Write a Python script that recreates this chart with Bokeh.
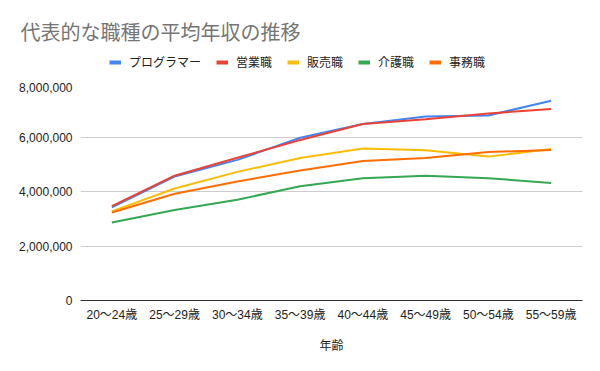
from bokeh.plotting import figure
from bokeh.layouts import column
from bokeh.models import Legend, LegendItem, NumeralTickFormatter, FixedTicker, Range1d
from bokeh.embed import file_html
from bokeh.resources import INLINE

ages = ["20～24歳", "25～29歳", "30～34歳", "35～39歳", "40～44歳", "45～49歳", "50～54歳", "55～59歳"]
programmer = [3420000, 4550000, 5160000, 5970000, 6480000, 6750000, 6790000, 7330000]
sales = [3460000, 4580000, 5240000, 5890000, 6480000, 6650000, 6860000, 7030000]
retail = [3270000, 4110000, 4720000, 5230000, 5580000, 5510000, 5280000, 5560000]
care = [2860000, 3320000, 3700000, 4190000, 4490000, 4580000, 4490000, 4310000]
clerk = [3230000, 3920000, 4370000, 4770000, 5120000, 5230000, 5450000, 5520000]
series_names = ["プログラマー", "営業職", "販売職", "介護職", "事務職"]
colors = ["#4285F4", "#EA4335", "#FBBC04", "#34A853", "#FF6D01"]
chart_title = "代表的な職種の平均年収の推移"
x_title = "年齢"

FONT = "Liberation Sans, Noto Sans CJK JP, sans-serif"
data = [programmer, sales, retail, care, clerk]

# header: title + legend (legend lines use the real series, kept out of view)
head = figure(width=600, height=82, x_range=ages, y_range=Range1d(0, 1),
              output_backend="svg", toolbar_location=None,
              x_axis_type=None, y_axis_type=None,
              min_border_left=80, min_border_right=18, min_border_top=48, min_border_bottom=0)
head.outline_line_color = None
head.xgrid.visible = False
head.ygrid.visible = False
head.title.text = chart_title
head.title.text_color = "#757575"
head.title.text_font = FONT
head.title.text_font_size = "20px"
head.title.text_font_style = "normal"
head.title.align = "left"
head.title.offset = -60
head.title.standoff = 10

items = []
for name, vals, c in zip(series_names, data, colors):
    r = head.line(ages, vals, line_color=c, line_width=4)
    items.append(LegendItem(label=name, renderers=[r]))
legend = Legend(items=items, orientation="horizontal", location=(29, 12),
                border_line_color=None, background_fill_alpha=0,
                label_text_font=FONT, label_text_font_size="12px", label_text_color="#222222",
                glyph_width=12, glyph_height=12, label_standoff=8, spacing=15, padding=4, margin=0)
head.add_layout(legend)

# main plot
p = figure(x_range=ages, y_range=Range1d(0, 8000000), width=600, height=289,
           output_backend="svg", toolbar_location=None,
           min_border_left=80, min_border_right=18, min_border_top=0, min_border_bottom=71)
p.outline_line_color = None

for vals, c in zip(data, colors):
    p.line(ages, vals, line_color=c, line_width=2)

p.yaxis.ticker = FixedTicker(ticks=[0, 2000000, 4000000, 6000000, 8000000])
p.yaxis.formatter = NumeralTickFormatter(format="0,0")
p.yaxis.axis_line_color = None
p.yaxis.major_tick_line_color = None
p.yaxis.minor_tick_line_color = None
p.yaxis.major_label_text_font = FONT
p.yaxis.major_label_text_font_size = "12px"
p.yaxis.major_label_text_color = "#222222"
p.yaxis.major_label_standoff = 2

p.xaxis.axis_label = x_title
p.xaxis.axis_label_text_font = FONT
p.xaxis.axis_label_text_font_size = "12px"
p.xaxis.axis_label_text_font_style = "normal"
p.xaxis.axis_label_text_color = "#222222"
p.xaxis.axis_label_standoff = 14
p.xaxis.axis_line_color = "#333333"
p.xaxis.major_tick_line_color = None
p.xaxis.major_label_text_font = FONT
p.xaxis.major_label_text_font_size = "12px"
p.xaxis.major_label_text_color = "#222222"
p.xaxis.major_label_standoff = 1

p.xgrid.grid_line_color = None
p.ygrid.grid_line_color = "#cccccc"

open("out.html", "w").write(file_html(column(head, p), INLINE))
